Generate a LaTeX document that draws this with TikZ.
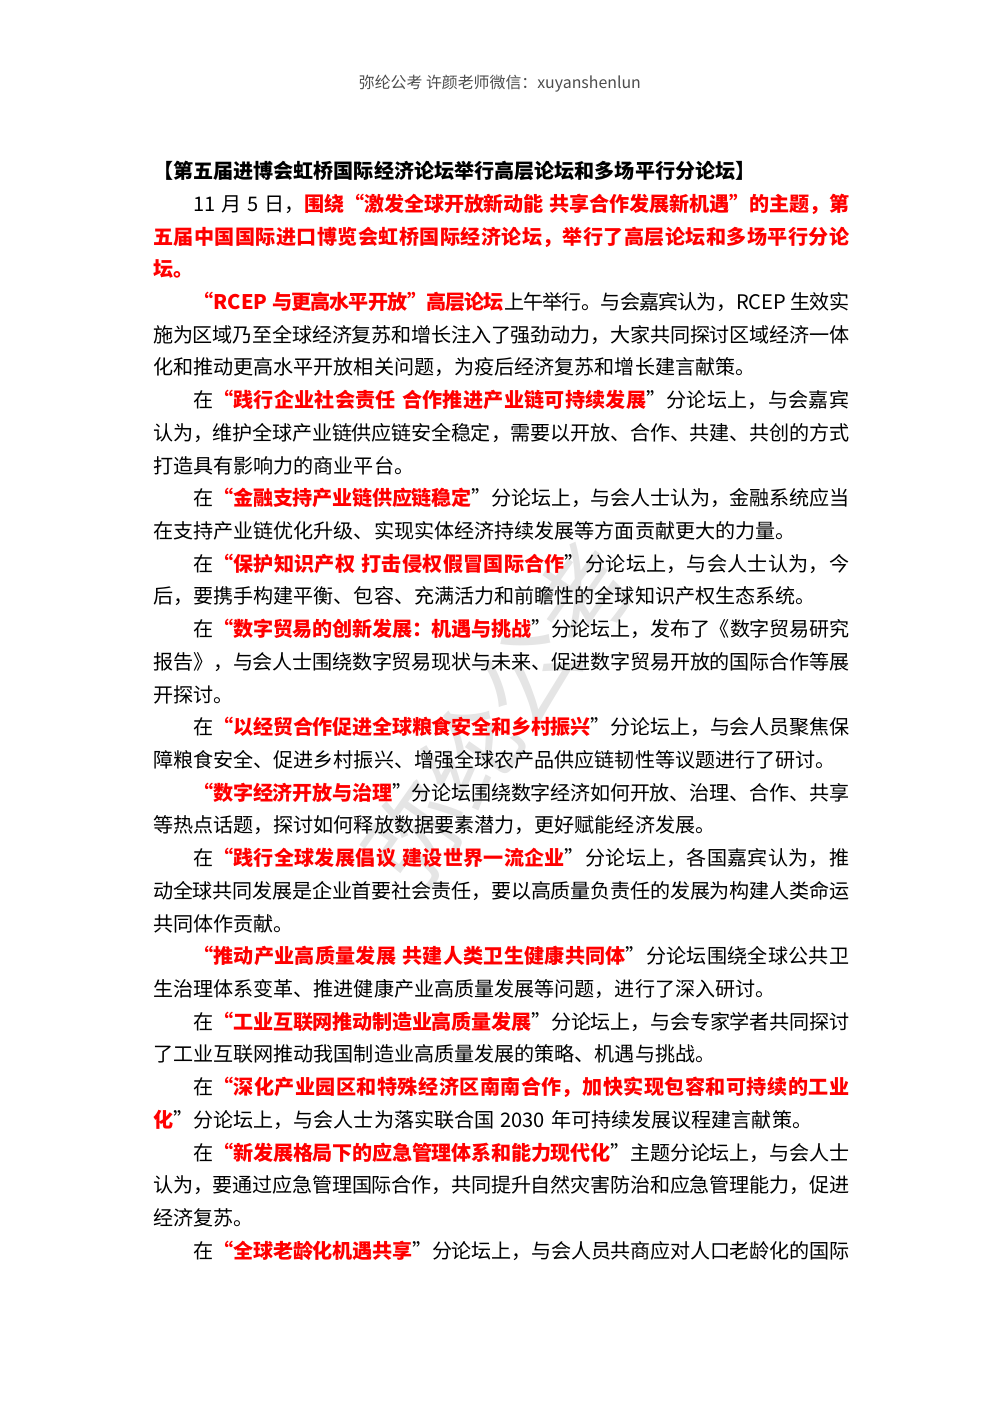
\documentclass[tikz,border=0pt]{standalone}
\usepackage{fontspec}
\setmainfont{Noto Sans CJK SC}
\usepackage{xcolor}
\usetikzlibrary{positioning}
\XeTeXlinebreaklocale "zh"
\XeTeXlinebreakskip=0pt plus 3pt minus 1.2pt
\newcommand{\hl}[1]{{\bfseries\color{red}#1}}
\newcommand{\bodysize}{\fontsize{12pt}{19.55pt}\selectfont}
\newcommand{\headsize}{\fontsize{9.5pt}{12pt}\selectfont}

\begin{document}
\begin{tikzpicture}[
    x=1mm, y=1mm,
    header/.style={inner sep=0pt, text=black!70},
    watermark/.style={inner sep=0pt, rotate=55, text=black!10},
    body/.style={inner sep=0pt, anchor=north west, text width=146.2mm, align=justify},
]
\useasboundingbox (0,0) rectangle (210,-297);

% watermark
\node[watermark] (wm) at (105,-150) {\fontsize{58pt}{60pt}\selectfont 弥纶公考};

% header
\node[header] (head) at (105,-17.6) {\headsize 弥纶公考\ 许颜老师微信：xuyanshenlun};

% body text
\node[body] (txt) at (32.1,-33.8) {\bodysize
\setlength{\parindent}{2em}\setlength{\parskip}{0pt}\tolerance=9999\spaceskip=0.3em plus 0.2em minus 0.15em%
\noindent{\bfseries 【第五届进博会虹桥国际经济论坛举行高层论坛和多场平行分论坛】}\par
11 月 5 日，\hl{围绕“激发全球开放新动能 共享合作发展新机遇”的主题，第}\linebreak
\hl{五届中国国际进口博览会虹桥国际经济论坛，举行了高层论坛和多场平行分论}\linebreak
\hl{坛。}\par
\hl{“RCEP 与更高水平开放”高层论坛}上午举行。与会嘉宾认为，RCEP 生效实\linebreak
施为区域乃至全球经济复苏和增长注入了强劲动力，大家共同探讨区域经济一体\linebreak
化和推动更高水平开放相关问题，为疫后经济复苏和增长建言献策。\par
在\hl{“践行企业社会责任 合作推进产业链可持续发展}”分论坛上，与会嘉宾\linebreak
认为，维护全球产业链供应链安全稳定，需要以开放、合作、共建、共创的方式\linebreak
打造具有影响力的商业平台。\par
在\hl{“金融支持产业链供应链稳定}”分论坛上，与会人士认为，金融系统应当\linebreak
在支持产业链优化升级、实现实体经济持续发展等方面贡献更大的力量。\par
在\hl{“保护知识产权 打击侵权假冒国际合作}”分论坛上，与会人士认为，今\linebreak
后，要携手构建平衡、包容、充满活力和前瞻性的全球知识产权生态系统。\par
在\hl{“数字贸易的创新发展：机遇与挑战}”分论坛上，发布了《数字贸易研究\linebreak
报告》，与会人士围绕数字贸易现状与未来、促进数字贸易开放的国际合作等展\linebreak
开探讨。\par
在\hl{“以经贸合作促进全球粮食安全和乡村振兴}”分论坛上，与会人员聚焦保\linebreak
障粮食安全、促进乡村振兴、增强全球农产品供应链韧性等议题进行了研讨。\par
\hl{“数字经济开放与治理}”分论坛围绕数字经济如何开放、治理、合作、共享\linebreak
等热点话题，探讨如何释放数据要素潜力，更好赋能经济发展。\par
在\hl{“践行全球发展倡议 建设世界一流企业}”分论坛上，各国嘉宾认为，推\linebreak
动全球共同发展是企业首要社会责任，要以高质量负责任的发展为构建人类命运\linebreak
共同体作贡献。\par
\hl{“推动产业高质量发展 共建人类卫生健康共同体}”分论坛围绕全球公共卫\linebreak
生治理体系变革、推进健康产业高质量发展等问题，进行了深入研讨。\par
在\hl{“工业互联网推动制造业高质量发展}”分论坛上，与会专家学者共同探讨\linebreak
了工业互联网推动我国制造业高质量发展的策略、机遇与挑战。\par
在\hl{“深化产业园区和特殊经济区南南合作，加快实现包容和可持续的工业}\linebreak
\hl{化}”分论坛上，与会人士为落实联合国 2030 年可持续发展议程建言献策。\par
在\hl{“新发展格局下的应急管理体系和能力现代化}”主题分论坛上，与会人士\linebreak
认为，要通过应急管理国际合作，共同提升自然灾害防治和应急管理能力，促进\linebreak
经济复苏。\par
{\setlength{\parfillskip}{0pt}在\hl{“全球老龄化机遇共享}”分论坛上，与会人员共商应对人口老龄化的国际\par}
};
\end{tikzpicture}
\end{document}
